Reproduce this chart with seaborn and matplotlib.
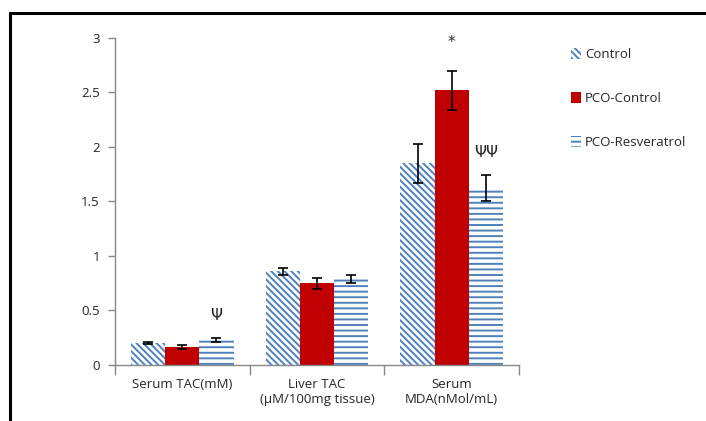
import matplotlib
matplotlib.use("Agg")
import matplotlib.pyplot as plt
import seaborn as sns
import pandas as pd
from matplotlib.lines import Line2D
from matplotlib.patches import Patch

categories = ["Serum TAC(mM)", "Liver TAC\n(\u00b5M/100mg tissue)", "Serum\nMDA(nMol/mL)"]
groups = ["Control", "PCO-Control", "PCO-Resveratrol"]
control = [0.20, 0.86, 1.85]
pco_control = [0.165, 0.75, 2.52]
pco_resv = [0.23, 0.79, 1.62]
control_err = [0.01, 0.03, 0.18]
pco_control_err = [0.02, 0.05, 0.18]
pco_resv_err = [0.015, 0.04, 0.12]
marks = {(0, 2): "\u03a8", (2, 1): "*", (2, 2): "\u03a8\u03a8"}

values = [control, pco_control, pco_resv]
errors = [control_err, pco_control_err, pco_resv_err]
rows = []
for g, vals in zip(groups, values):
    for c, v in zip(categories, vals):
        rows.append({"cat": c, "group": g, "value": v})
df = pd.DataFrame(rows)

sns.set_theme(style="white")
plt.rcParams["font.family"] = ["Open Sans", "DejaVu Sans"]
plt.rcParams["hatch.linewidth"] = 1.4

blue = "#4f81bd"
red = "#c00000"
diag = "\\" * 5

fig = plt.figure(figsize=(7.06, 4.21), dpi=100)
ax = fig.add_axes([0.163, 0.133, 0.572, 0.777])

sns.barplot(data=df, x="cat", y="value", hue="group", order=categories,
            hue_order=groups, width=0.76, errorbar=None, ax=ax, legend=False)

styles = [("white", blue, diag), (red, red, None), ("white", blue, "---")]
for container, (fc, ec, h), errs in zip(ax.containers, styles, errors):
    for bar, e in zip(container, errs):
        bar.set_facecolor(fc)
        bar.set_edgecolor(ec)
        bar.set_linewidth(0)
        if h:
            bar.set_hatch(h)
        x = bar.get_x() + bar.get_width() / 2
        ax.errorbar(x, bar.get_height(), yerr=e, color="black", lw=1.2,
                    capsize=3.5, capthick=1.2)

for (ci, gi), txt in marks.items():
    bar = ax.containers[gi][ci]
    x = bar.get_x() + bar.get_width() / 2
    top = bar.get_height() + errors[gi][ci]
    off = 0.26 if txt == "*" else 0.21
    ax.text(x, top + off, txt, ha="center", va="center", fontsize=11,
            family=["DejaVu Sans"])

ax.set_ylim(0, 3)
ax.set_xlim(-0.5, 2.5)
ax.set_yticks([0, 0.5, 1, 1.5, 2, 2.5, 3])
ax.set_yticklabels(["0", "0.5", "1", "1.5", "2", "2.5", "3"])
ax.set_xticks([-0.5, 0.5, 1.5, 2.5])
ax.set_xticklabels([])
ax.set_xticks([0, 1, 2], minor=True)
ax.set_xticklabels(categories, minor=True)
ax.tick_params(axis="x", which="minor", length=0, pad=9, labelsize=9.5)
ax.tick_params(axis="x", which="major", length=7, width=1, color="#888888",
               direction="out", bottom=True)
ax.tick_params(axis="y", length=5, width=1, color="#888888", direction="out",
               left=True, labelsize=9.5, pad=6)
ax.set_xlabel("")
ax.set_ylabel("")
for s in ["top", "right"]:
    ax.spines[s].set_visible(False)
for s in ["left", "bottom"]:
    ax.spines[s].set_color("#888888")
    ax.spines[s].set_linewidth(1)

handles = [Patch(facecolor="white", edgecolor=blue, hatch=diag, lw=0),
           Patch(facecolor=red, edgecolor=red, lw=0),
           Patch(facecolor="white", edgecolor=blue, hatch="---", lw=0)]
ax.legend(handles, groups, loc="upper left", bbox_to_anchor=(1.115, 0.985),
          frameon=False, fontsize=9.5, labelspacing=2.35, handlelength=0.8,
          handleheight=0.8, handletextpad=0.3, borderaxespad=0)

fig.add_artist(Line2D([10 / 706, 1.0], [1 - 13 / 421, 1 - 13 / 421],
                      color="black", lw=2.2, transform=fig.transFigure))
fig.add_artist(Line2D([10 / 706, 10 / 706], [0, 1 - 13 / 421],
                      color="black", lw=2.2, transform=fig.transFigure))

fig.savefig("out.png", dpi=100)
